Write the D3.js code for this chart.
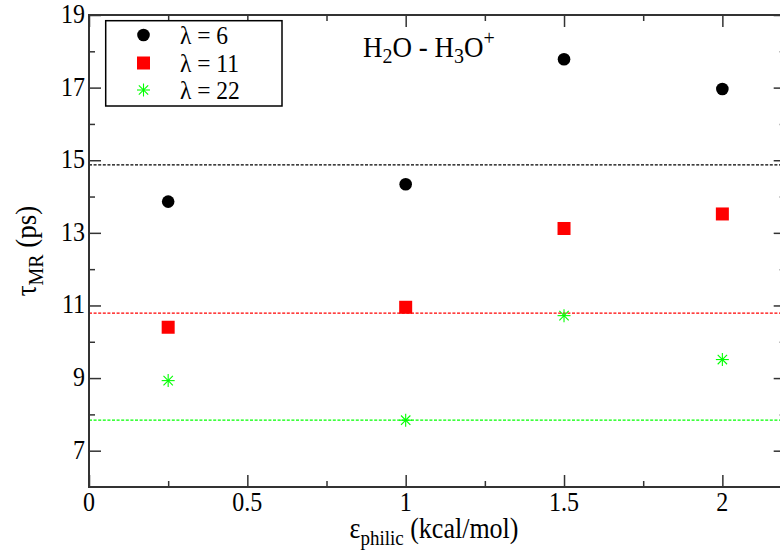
<!DOCTYPE html>
<html><head><meta charset="utf-8">
<script src="https://cdn.jsdelivr.net/npm/d3@7"></script>
<style>body{margin:0;background:#fff}svg{display:block}
svg text{font-family:"Liberation Serif","Tinos","Times New Roman","Times","DejaVu Serif","Noto Serif","FreeSerif",serif;}</style>
</head><body>
<svg id="c" width="780" height="556"></svg>
<script>
const xValues = [0.25, 1.0, 1.5, 2.0];
const lambda6 = [13.86, 14.34, 17.78, 16.96];
const lambda11 = [10.40, 10.95, 13.12, 13.52];
const lambda22 = [8.93, 7.84, 10.72, 9.51];
const refLines = [14.87, 10.79, 7.84];
const seriesNames = ["λ = 6", "λ = 11", "λ = 22"];
const xTickLabels = ["0", "0.5", "1", "1.5", "2"];
const yTickLabels = ["7", "9", "11", "13", "15", "17", "19"];

const colors = ["#000000", "#ff0000", "#00ff00"];
const FS = 24, SY = 1.1;

const svg = d3.select("#c");
const x = d3.scaleLinear().domain([0, 2.2]).range([89, 785.7]);
const y = d3.scaleLinear().domain([6, 19]).range([487, 15]);
const axisColor = "#333";

// reference dotted lines
svg.append("g").selectAll("line").data(refLines).join("line")
  .attr("x1", x(0)).attr("x2", x(2.2))
  .attr("y1", d => y(d)).attr("y2", d => y(d))
  .attr("stroke", (d, i) => colors[i]).attr("stroke-width", 1.3)
  .attr("stroke-dasharray", "3,1.6");

// axes (ticks inward on all sides)
const xMajor = xTickLabels.map(Number);
const xMinor = [0.25, 0.75, 1.25, 1.75];
const yMajor = yTickLabels.map(Number);
const yMinor = [8, 10, 12, 14, 16, 18];

function ax(axisFn, scale, vals, len, tx) {
  const g = svg.append("g").attr("transform", tx)
    .call(axisFn(scale).tickValues(vals).tickSize(len).tickFormat(""));
  g.select(".domain").remove();
  g.selectAll(".tick line").attr("stroke", axisColor).attr("stroke-width", 1.5);
}
ax(d3.axisTop, x, xMajor, 12, `translate(0,${y(6)})`);
ax(d3.axisTop, x, xMinor, 6, `translate(0,${y(6)})`);
ax(d3.axisBottom, x, xMajor, 12, `translate(0,${y(19)})`);
ax(d3.axisBottom, x, xMinor, 6, `translate(0,${y(19)})`);
ax(d3.axisRight, y, yMajor, 12, `translate(${x(0)},0)`);
ax(d3.axisRight, y, yMinor, 6, `translate(${x(0)},0)`);
ax(d3.axisLeft, y, yMajor, 12, `translate(${x(2.2)},0)`);
ax(d3.axisLeft, y, yMinor, 6, `translate(${x(2.2)},0)`);

svg.append("rect").attr("x", x(0)).attr("y", y(19))
  .attr("width", x(2.2) - x(0)).attr("height", y(6) - y(19))
  .attr("fill", "none").attr("stroke", axisColor).attr("stroke-width", 2);

function label(px, py, anchor, rot, fs) {
  const g = svg.append("g").attr("transform", `translate(${px},${py}) rotate(${rot || 0}) scale(1,${SY})`);
  return g.append("text").attr("font-size", fs || FS)
    .attr("text-anchor", anchor).attr("fill", "#000");
}

// tick labels
xTickLabels.forEach(t => label(x(+t), 511, "middle").text(t));
yTickLabels.forEach(t => label(85, y(+t) + 8, "end").text(t));

// axis titles
{
  const t = label(434, 538, "middle", 0, 26);
  t.append("tspan").text("ε");
  t.append("tspan").attr("font-size", 19).attr("dy", 6).text("philic");
  t.append("tspan").attr("dy", -6).text(" (kcal/mol)");
}
{
  const t = label(36, 251, "middle", -90, 27);
  t.append("tspan").text("τ");
  t.append("tspan").attr("font-size", 20).attr("dy", 6).text("MR");
  t.append("tspan").attr("dy", -6).text(" (ps)");
}
// annotation
{
  const t = label(363, 57, "start", 0, 27);
  t.append("tspan").text("H");
  t.append("tspan").attr("font-size", 20).attr("dy", 5).text("2");
  t.append("tspan").attr("dy", -5).text("O - H");
  t.append("tspan").attr("font-size", 20).attr("dy", 5).text("3");
  t.append("tspan").attr("dy", -5).text("O");
  t.append("tspan").attr("font-size", 20).attr("dy", -11).text("+");
}

// markers
function drawMarker(g, type, color) {
  if (type === 0) g.append("circle").attr("r", 6.3).attr("fill", color);
  else if (type === 1) g.append("rect").attr("x", -6.5).attr("y", -6.5).attr("width", 13).attr("height", 13).attr("fill", color);
  else {
    const r = 6.5, d = r * 0.72;
    [[0, -r, 0, r], [-r, 0, r, 0], [-d, -d, d, d], [-d, d, d, -d]].forEach(s =>
      g.append("line").attr("x1", s[0]).attr("y1", s[1]).attr("x2", s[2]).attr("y2", s[3])
        .attr("stroke", color).attr("stroke-width", 1.1));
  }
}
[lambda6, lambda11, lambda22].forEach((vals, si) => {
  vals.forEach((v, i) => {
    const g = svg.append("g").attr("transform", `translate(${x(xValues[i])},${y(v)})`);
    drawMarker(g, si, colors[si]);
  });
});

// legend
svg.append("rect").attr("x", 105.7).attr("y", 20.7).attr("width", 176.3).attr("height", 85.3)
  .attr("fill", "#fff").attr("stroke", "#000").attr("stroke-width", 1.5);
const rowY = [35, 63, 90];
seriesNames.forEach((n, i) => {
  const g = svg.append("g").attr("transform", `translate(143.5,${rowY[i]})`);
  drawMarker(g, i, colors[i]);
  label(180, rowY[i] + 8.5, "start", 0, 23.5).text(n);
});
</script>
</body></html>
